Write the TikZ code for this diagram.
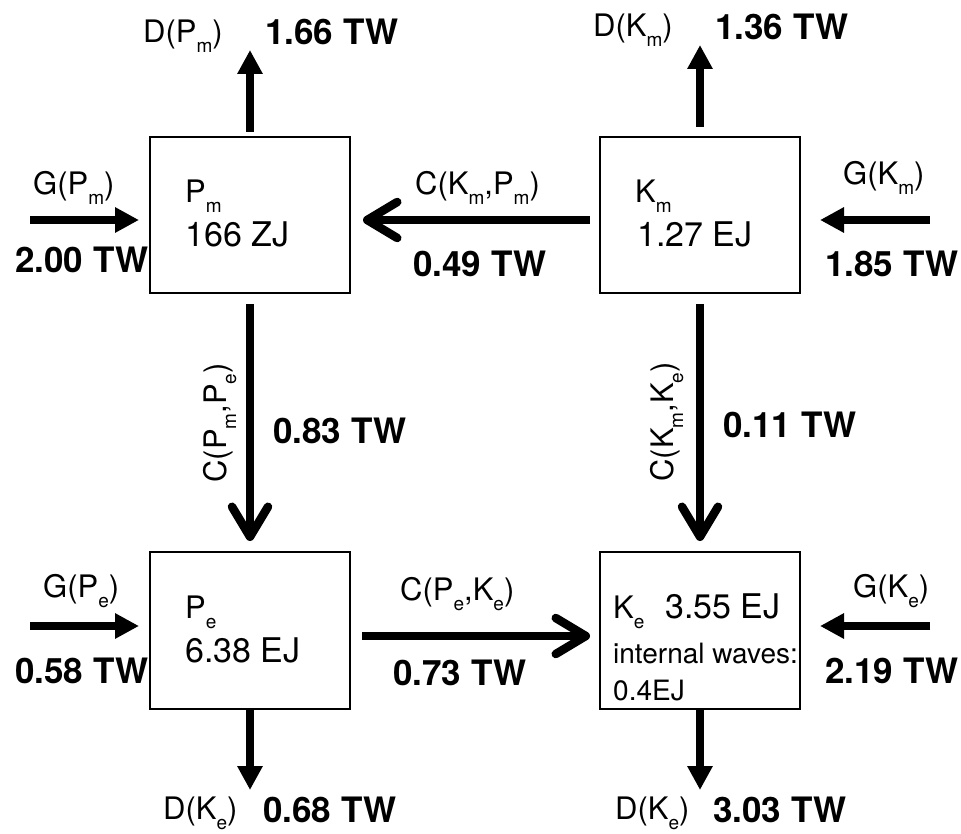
\documentclass[tikz,border=0pt]{standalone}
\usepackage{fontspec}
\setmainfont{TeX Gyre Heros}
\usetikzlibrary{arrows.meta}
% lowered small subscript letter
\newcommand\lo[1]{\raisebox{-10pt}{\fontsize{19}{19}\selectfont #1}}
\begin{document}
\begin{tikzpicture}[x=1pt,y=-1pt,
  box/.style={draw, line width=2pt, minimum width=200pt, minimum height=156pt, inner sep=0pt},
  txt/.style={inner sep=0pt, anchor=base west, font=\fontsize{31}{36}\selectfont},
  val/.style={inner sep=0pt, anchor=base west, font=\fontsize{35}{40}\selectfont\bfseries},
  qty/.style={inner sep=0pt, anchor=base west, font=\fontsize{34}{40}\selectfont},
  note/.style={inner sep=0pt, anchor=base west, font=\fontsize{28}{32}\selectfont},
  gen/.style={line width=8.5pt, -{Triangle[length=24pt,width=24pt]}},
  conv/.style={line width=8.5pt, -{Straight Barb[length=30pt,width=36pt,round]}},
]
\useasboundingbox (0,0) rectangle (961,834);

% energy reservoirs
\node[box] (pm) at (250,215) {};
\node[box] (km) at (700,215) {};
\node[box, minimum height=157pt] (pe) at (250,630.5) {};
\node[box, minimum height=157pt] (ke) at (700,630.5) {};

% reservoir contents
\node[txt] (npm) at (185,203) {P\lo{m}};
\node[qty] (qpm) at (185,247) {166 ZJ};
\node[txt] (nkm) at (635,203) {K\lo{m}};
\node[qty] (qkm) at (637,247) {1.27 EJ};
\node[txt] (npe) at (185,618) {P\lo{e}};
\node[qty] (qpe) at (185,662) {6.38 EJ};
\node[txt] (nke) at (613,618) {K\lo{e}};
\node[qty] (qke) at (665,618) {3.55 EJ};
\node[note] (iw1) at (613,663) {internal waves:};
\node[note] (iw2) at (613,700) {0.4EJ};

% free ends of the sources and sinks
\coordinate (dpmT) at (250,50);
\coordinate (dkmT) at (700,45);
\coordinate (dpeT) at (250,790);
\coordinate (dkeT) at (700,790);
\coordinate (gpmS) at (30,220);
\coordinate (gkmS) at (930,220);
\coordinate (gpeS) at (30,626);
\coordinate (gkeS) at (930,626);

% generation and dissipation
\draw[gen] ([yshift=4pt]pm.north) -- (dpmT);
\draw[gen] ([yshift=9pt]km.north) -- (dkmT);
\draw[gen] (pe.south) -- (dpeT);
\draw[gen] (ke.south) -- (dkeT);
\draw[gen, shorten >=10pt] (gpmS) -- (gpmS -| pm.west);
\draw[gen, shorten >=19pt] (gkmS) -- (gkmS -| km.east);
\draw[gen, shorten >=10pt] (gpeS) -- (gpeS -| pe.west);
\draw[gen, shorten >=19pt] (gkeS) -- (gkeS -| ke.east);

% conversions
\draw[conv, shorten <=9pt, shorten >=12pt] ([yshift=-5pt]km.west) -- ([yshift=-5pt]pm.east);
\draw[conv, shorten <=10pt, shorten >=10pt] (pm.south) -- (pe.north);
\draw[conv, shorten <=10pt, shorten >=10pt] (km.south) -- (ke.north);
\draw[conv, shorten <=11pt, shorten >=9pt] ([yshift=-5.5pt]pe.east) -- ([yshift=-5.5pt]ke.west);

% labels
\node[txt] (ldpm) at (143,43) {D(P\lo{m})};
\node[val] (vdpm) at (265,45) {1.66 TW};
\node[txt] (ldkm) at (593,37) {D(K\lo{m})};
\node[val] (vdkm) at (715,40) {1.36 TW};
\node[txt] (lgpm) at (33,195) {G(P\lo{m})};
\node[val] (vgpm) at (15,273) {2.00 TW};
\node[txt] (lckp) at (415,195) {C(K\lo{m},P\lo{m})};
\node[val] (vckp) at (413,277) {0.49 TW};
\node[txt] (lgkm) at (843,185) {G(K\lo{m})};
\node[val] (vgkm) at (825,277) {1.85 TW};
\node[txt, anchor=base, rotate=90] (lcpp) at (226,423) {C(P\lo{m},P\lo{e})};
\node[val] (vcpp) at (273,443) {0.83 TW};
\node[txt, anchor=base, rotate=90] (lckk) at (673,422) {C(K\lo{m},K\lo{e})};
\node[val] (vckk) at (723,437) {0.11 TW};
\node[txt] (lgpe) at (43,597) {G(P\lo{e})};
\node[val] (vgpe) at (15,683) {0.58 TW};
\node[txt] (lcpk) at (400,600) {C(P\lo{e},K\lo{e})};
\node[val] (vcpk) at (393,685) {0.73 TW};
\node[txt] (lgke) at (853,597) {G(K\lo{e})};
\node[val] (vgke) at (825,683) {2.19 TW};
\node[txt] (ldpe) at (163,819) {D(K\lo{e})};
\node[val] (vdpe) at (263,822) {0.68 TW};
\node[txt] (ldke) at (615,819) {D(K\lo{e})};
\node[val] (vdke) at (713,822) {3.03 TW};
\end{tikzpicture}
\end{document}
